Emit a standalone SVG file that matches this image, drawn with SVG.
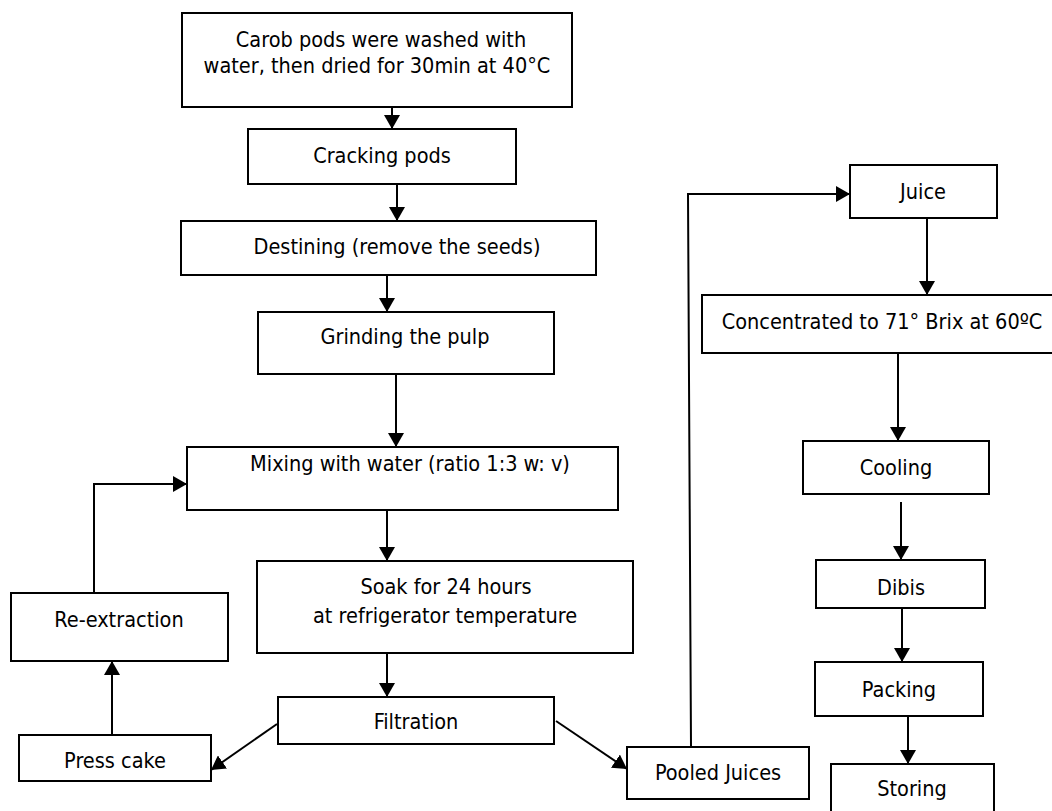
<svg xmlns="http://www.w3.org/2000/svg" width="1052" height="811" viewBox="0 0 1052 811">
<style>
.box{fill:#fff;stroke:#000;stroke-width:2}
.t{font-family:"DejaVu Sans Condensed","DejaVu Sans",sans-serif;font-size:21.5px;fill:#000;text-anchor:middle}
.c{fill:none;stroke:#000;stroke-width:2}
</style>
<defs>
<marker id="ah" viewBox="0 0 14 16" refX="14" refY="8" markerWidth="14" markerHeight="16" markerUnits="userSpaceOnUse" orient="auto">
<path d="M0,0 L14,8 L0,16 z" fill="#000"/>
</marker>
</defs>
<rect width="1052" height="811" fill="#fff"/>
<g id="connectors">
<path class="c" d="M392,107 V129" marker-end="url(#ah)"/>
<path class="c" d="M397,184 V221" marker-end="url(#ah)"/>
<path class="c" d="M387,275 V312" marker-end="url(#ah)"/>
<path class="c" d="M396,374 V447" marker-end="url(#ah)"/>
<path class="c" d="M387,510 V561" marker-end="url(#ah)"/>
<path class="c" d="M387,653 V697" marker-end="url(#ah)"/>
<path class="c" d="M277,724 L211,770" marker-end="url(#ah)"/>
<path class="c" d="M112,735 V661" marker-end="url(#ah)"/>
<path class="c" d="M94,593 V484 H187" marker-end="url(#ah)"/>
<path class="c" d="M556,721 L627,769" marker-end="url(#ah)"/>
<path class="c" d="M691,747 L688,194 H850" marker-end="url(#ah)"/>
<path class="c" d="M927,218 V295" marker-end="url(#ah)"/>
<path class="c" d="M898,353 V441" marker-end="url(#ah)"/>
<path class="c" d="M901,502 V560" marker-end="url(#ah)"/>
<path class="c" d="M902,608 V662" marker-end="url(#ah)"/>
<path class="c" d="M908,716 V764" marker-end="url(#ah)"/>
</g>
<g id="n1"><rect class="box" x="182" y="13" width="390" height="94"/>
<text class="t" x="381" y="47">Carob pods were washed with</text>
<text class="t" x="377" y="73">water, then dried for 30min at 40°C</text></g>
<g id="n2"><rect class="box" x="248" y="129" width="268" height="55"/>
<text class="t" x="382" y="163">Cracking pods</text></g>
<g id="n3"><rect class="box" x="181" y="221" width="415" height="54"/>
<text class="t" x="397" y="254">Destining (remove the seeds)</text></g>
<g id="n4"><rect class="box" x="258" y="312" width="296" height="62"/>
<text class="t" x="405" y="344">Grinding the pulp</text></g>
<g id="n5"><rect class="box" x="187" y="447" width="431" height="63"/>
<text class="t" x="410" y="471">Mixing with water (ratio 1:3 w: v)</text></g>
<g id="n6"><rect class="box" x="257" y="561" width="376" height="92"/>
<text class="t" x="446" y="594">Soak for 24 hours</text>
<text class="t" x="445" y="623">at refrigerator temperature</text></g>
<g id="n7"><rect class="box" x="278" y="697" width="276" height="47"/>
<text class="t" x="416" y="729">Filtration</text></g>
<g id="n8"><rect class="box" x="11" y="593" width="217" height="68"/>
<text class="t" x="119" y="627">Re-extraction</text></g>
<g id="n9"><rect class="box" x="19" y="735" width="192" height="46"/>
<text class="t" x="115" y="768">Press cake</text></g>
<g id="n10"><rect class="box" x="627" y="747" width="182" height="52"/>
<text class="t" x="718" y="780">Pooled Juices</text></g>
<g id="n11"><rect class="box" x="850" y="165" width="147" height="53"/>
<text class="t" x="923" y="199">Juice</text></g>
<g id="n12"><rect class="box" x="702" y="295" width="360" height="58"/>
<text class="t" x="882" y="329">Concentrated to 71° Brix at 60ºC</text></g>
<g id="n13"><rect class="box" x="803" y="441" width="186" height="53"/>
<text class="t" x="896" y="475">Cooling</text></g>
<g id="n14"><rect class="box" x="816" y="560" width="169" height="48"/>
<text class="t" x="901" y="595">Dibis</text></g>
<g id="n15"><rect class="box" x="815" y="662" width="168" height="54"/>
<text class="t" x="899" y="697">Packing</text></g>
<g id="n16"><rect class="box" x="831" y="764" width="163" height="60"/>
<text class="t" x="912" y="796">Storing</text></g>
</svg>
